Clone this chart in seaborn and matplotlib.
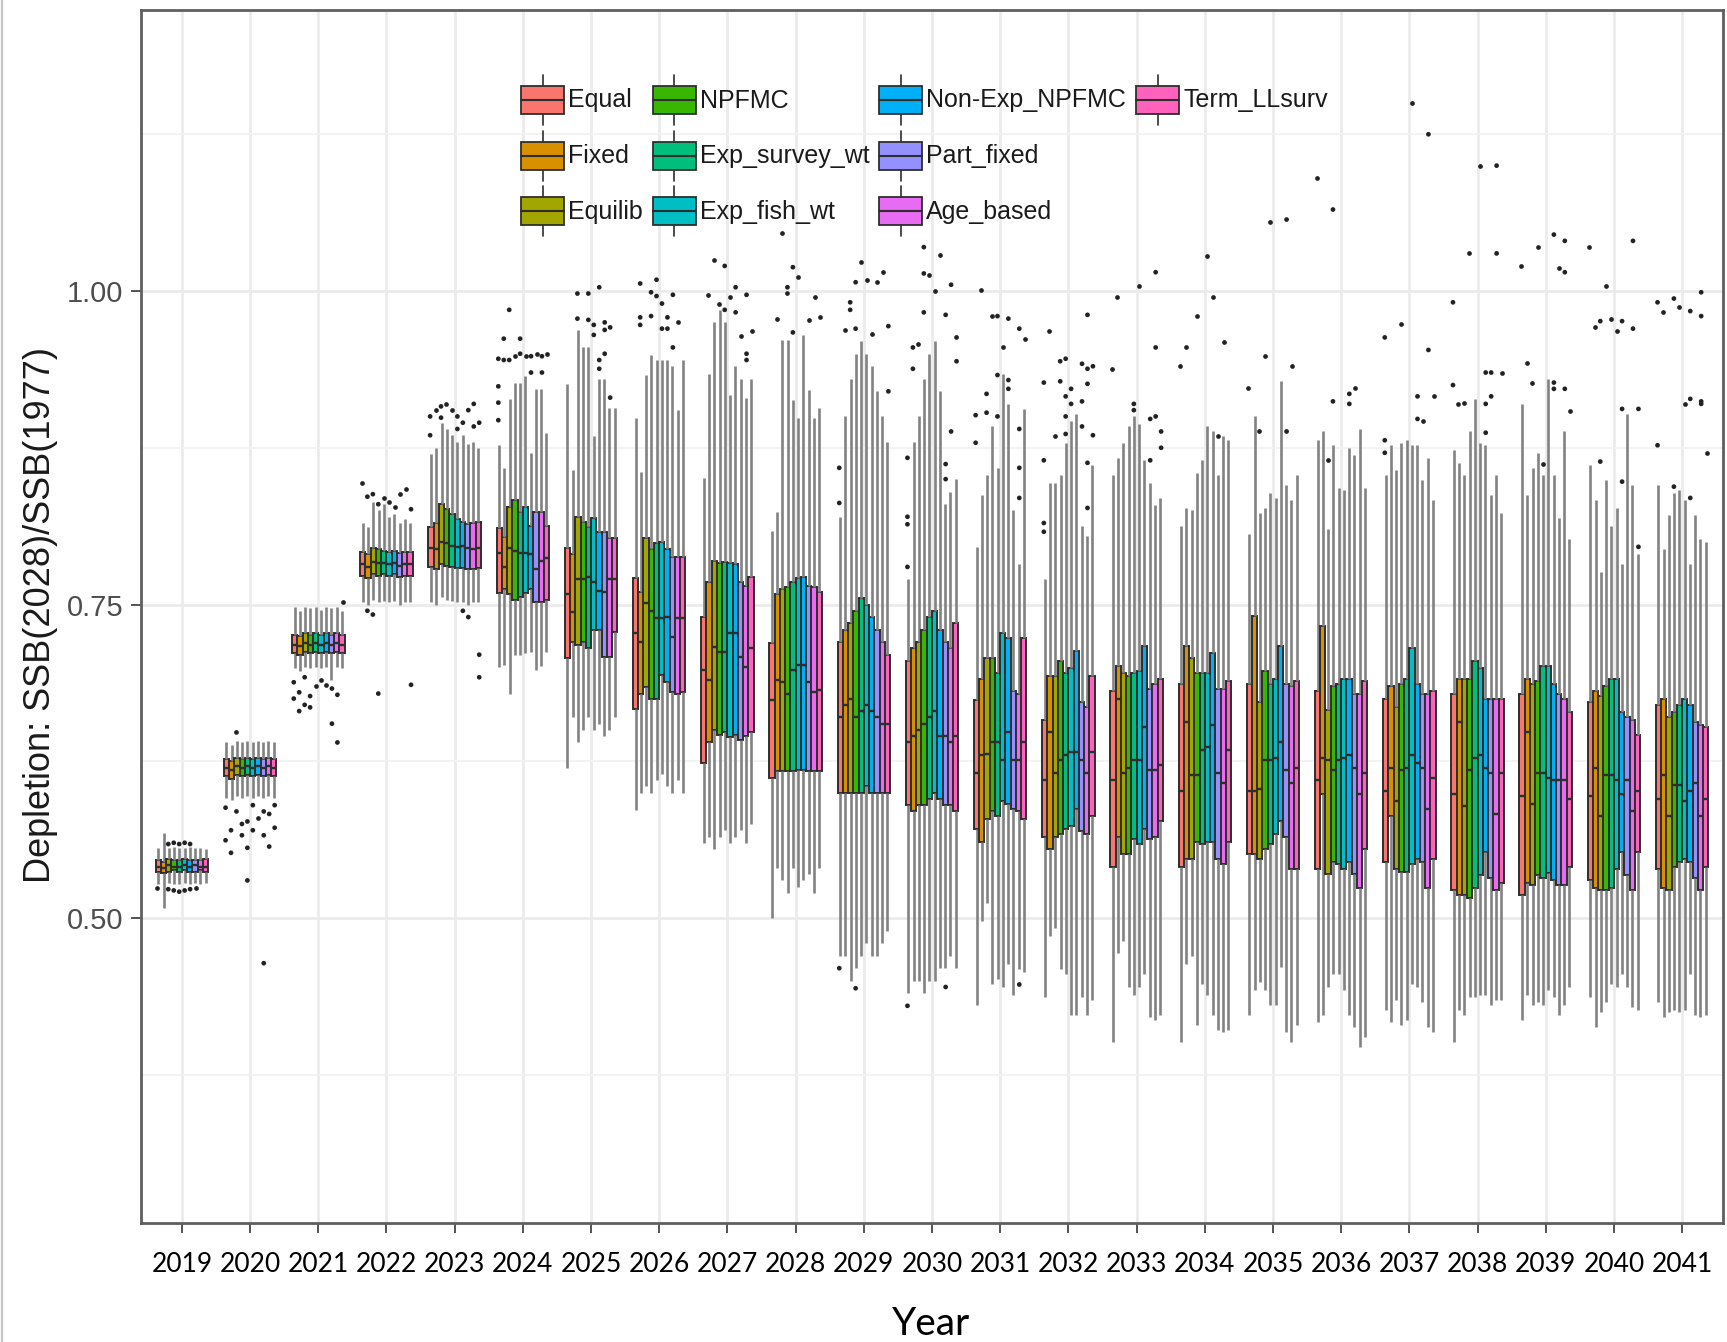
import numpy as np
import pandas as pd
import matplotlib
matplotlib.use("Agg")
import matplotlib.pyplot as plt
import seaborn as sns
from matplotlib.legend_handler import HandlerBase
from matplotlib.patches import Rectangle, Patch
from matplotlib.lines import Line2D
from matplotlib.ticker import FixedLocator

# ---------------- data ----------------
years = list(range(2019, 2042))
scenarios = ["Equal", "Fixed", "Equilib", "NPFMC", "Exp_survey_wt", "Exp_fish_wt",
             "Non-Exp_NPFMC", "Part_fixed", "Age_based", "Term_LLsurv"]
colors = ["#F8766D", "#D89000", "#A3A500", "#39B600", "#00BF7D", "#00BFC4",
          "#00B0F6", "#9590FF", "#E76BF3", "#FF62BC"]

# rows = years 2019..2041, columns = scenarios (order above)
box_q3 = [
    [0.546, 0.545, 0.547, 0.546, 0.546, 0.547, 0.546, 0.546, 0.546, 0.547],
    [0.627, 0.625, 0.628, 0.627, 0.628, 0.627, 0.628, 0.627, 0.628, 0.627],
    [0.726, 0.725, 0.727, 0.726, 0.727, 0.726, 0.727, 0.726, 0.727, 0.726],
    [0.792, 0.790, 0.795, 0.794, 0.793, 0.792, 0.793, 0.791, 0.792, 0.792],
    [0.812, 0.815, 0.830, 0.826, 0.822, 0.818, 0.816, 0.814, 0.815, 0.816],
    [0.811, 0.804, 0.828, 0.833, 0.824, 0.828, 0.813, 0.824, 0.824, 0.813],
    [0.795, 0.790, 0.820, 0.816, 0.812, 0.819, 0.808, 0.808, 0.803, 0.803],
    [0.771, 0.760, 0.803, 0.794, 0.799, 0.800, 0.794, 0.788, 0.788, 0.788],
    [0.740, 0.768, 0.785, 0.783, 0.784, 0.783, 0.782, 0.768, 0.765, 0.772],
    [0.719, 0.758, 0.762, 0.764, 0.768, 0.771, 0.772, 0.765, 0.764, 0.760],
    [0.720, 0.730, 0.735, 0.745, 0.755, 0.750, 0.740, 0.730, 0.720, 0.710],
    [0.705, 0.715, 0.720, 0.730, 0.740, 0.745, 0.730, 0.720, 0.715, 0.735],
    [0.674, 0.691, 0.707, 0.707, 0.695, 0.727, 0.723, 0.681, 0.679, 0.723],
    [0.658, 0.693, 0.693, 0.705, 0.695, 0.699, 0.713, 0.672, 0.668, 0.693],
    [0.681, 0.701, 0.695, 0.693, 0.695, 0.697, 0.717, 0.683, 0.687, 0.691],
    [0.687, 0.717, 0.707, 0.695, 0.695, 0.695, 0.711, 0.683, 0.683, 0.689],
    [0.687, 0.741, 0.672, 0.697, 0.687, 0.691, 0.717, 0.687, 0.685, 0.689],
    [0.681, 0.733, 0.666, 0.685, 0.687, 0.691, 0.691, 0.679, 0.679, 0.689],
    [0.675, 0.685, 0.668, 0.687, 0.691, 0.715, 0.687, 0.679, 0.679, 0.681],
    [0.679, 0.691, 0.691, 0.691, 0.705, 0.699, 0.675, 0.675, 0.675, 0.675],
    [0.679, 0.691, 0.687, 0.689, 0.701, 0.701, 0.687, 0.679, 0.675, 0.664],
    [0.672, 0.681, 0.677, 0.685, 0.691, 0.691, 0.664, 0.660, 0.658, 0.646],
    [0.670, 0.675, 0.660, 0.664, 0.670, 0.675, 0.670, 0.656, 0.654, 0.652],
]
box_med = [
    [0.541, 0.540, 0.542, 0.541, 0.541, 0.542, 0.541, 0.542, 0.541, 0.541],
    [0.620, 0.618, 0.621, 0.620, 0.621, 0.620, 0.621, 0.620, 0.621, 0.620],
    [0.718, 0.717, 0.719, 0.718, 0.719, 0.718, 0.719, 0.718, 0.719, 0.718],
    [0.782, 0.780, 0.784, 0.783, 0.783, 0.782, 0.783, 0.781, 0.782, 0.782],
    [0.795, 0.794, 0.800, 0.799, 0.797, 0.796, 0.797, 0.795, 0.794, 0.795],
    [0.791, 0.780, 0.795, 0.793, 0.791, 0.791, 0.790, 0.778, 0.785, 0.787],
    [0.758, 0.744, 0.770, 0.770, 0.772, 0.768, 0.761, 0.760, 0.770, 0.770],
    [0.727, 0.720, 0.751, 0.745, 0.739, 0.739, 0.740, 0.724, 0.739, 0.739],
    [0.698, 0.690, 0.716, 0.712, 0.712, 0.727, 0.727, 0.708, 0.700, 0.715],
    [0.674, 0.690, 0.688, 0.679, 0.698, 0.702, 0.702, 0.688, 0.680, 0.682],
    [0.660, 0.670, 0.675, 0.660, 0.665, 0.670, 0.665, 0.660, 0.655, 0.655],
    [0.640, 0.645, 0.650, 0.655, 0.660, 0.665, 0.645, 0.645, 0.640, 0.645],
    [0.616, 0.630, 0.631, 0.640, 0.640, 0.626, 0.648, 0.626, 0.626, 0.640],
    [0.610, 0.648, 0.616, 0.626, 0.630, 0.632, 0.632, 0.626, 0.616, 0.632],
    [0.610, 0.675, 0.616, 0.620, 0.626, 0.626, 0.652, 0.618, 0.618, 0.622],
    [0.601, 0.656, 0.614, 0.614, 0.634, 0.636, 0.654, 0.616, 0.608, 0.634],
    [0.601, 0.601, 0.603, 0.626, 0.626, 0.628, 0.640, 0.618, 0.608, 0.620],
    [0.610, 0.628, 0.626, 0.618, 0.626, 0.628, 0.630, 0.620, 0.599, 0.616],
    [0.601, 0.620, 0.593, 0.618, 0.620, 0.630, 0.624, 0.620, 0.587, 0.612],
    [0.599, 0.656, 0.589, 0.618, 0.628, 0.630, 0.620, 0.616, 0.583, 0.616],
    [0.597, 0.648, 0.591, 0.616, 0.616, 0.612, 0.610, 0.610, 0.610, 0.595],
    [0.597, 0.620, 0.581, 0.614, 0.614, 0.610, 0.599, 0.610, 0.585, 0.601],
    [0.595, 0.614, 0.581, 0.606, 0.606, 0.593, 0.601, 0.608, 0.581, 0.595],
]
box_q1 = [
    [0.537, 0.536, 0.537, 0.538, 0.537, 0.538, 0.537, 0.537, 0.538, 0.537],
    [0.613, 0.611, 0.614, 0.613, 0.614, 0.613, 0.614, 0.613, 0.614, 0.613],
    [0.711, 0.710, 0.712, 0.711, 0.712, 0.711, 0.712, 0.711, 0.712, 0.711],
    [0.773, 0.771, 0.774, 0.773, 0.774, 0.773, 0.774, 0.772, 0.773, 0.773],
    [0.780, 0.778, 0.782, 0.781, 0.780, 0.779, 0.779, 0.778, 0.778, 0.779],
    [0.759, 0.762, 0.758, 0.754, 0.756, 0.759, 0.762, 0.752, 0.752, 0.754],
    [0.707, 0.720, 0.718, 0.720, 0.715, 0.730, 0.730, 0.708, 0.708, 0.728],
    [0.667, 0.679, 0.684, 0.675, 0.675, 0.694, 0.688, 0.680, 0.679, 0.680],
    [0.624, 0.640, 0.650, 0.646, 0.648, 0.644, 0.646, 0.642, 0.645, 0.648],
    [0.612, 0.617, 0.617, 0.617, 0.617, 0.618, 0.618, 0.617, 0.617, 0.617],
    [0.600, 0.600, 0.600, 0.600, 0.600, 0.605, 0.600, 0.600, 0.600, 0.600],
    [0.590, 0.585, 0.590, 0.590, 0.595, 0.600, 0.595, 0.590, 0.590, 0.585],
    [0.571, 0.561, 0.579, 0.585, 0.581, 0.593, 0.591, 0.587, 0.585, 0.579],
    [0.565, 0.555, 0.565, 0.567, 0.571, 0.573, 0.587, 0.569, 0.567, 0.581],
    [0.541, 0.565, 0.551, 0.551, 0.563, 0.559, 0.571, 0.563, 0.565, 0.577],
    [0.541, 0.547, 0.547, 0.561, 0.559, 0.561, 0.561, 0.547, 0.543, 0.561],
    [0.551, 0.551, 0.547, 0.555, 0.559, 0.567, 0.577, 0.565, 0.539, 0.539],
    [0.539, 0.599, 0.535, 0.545, 0.543, 0.539, 0.545, 0.535, 0.524, 0.555],
    [0.545, 0.581, 0.539, 0.537, 0.537, 0.543, 0.547, 0.545, 0.524, 0.547],
    [0.522, 0.518, 0.518, 0.516, 0.524, 0.534, 0.553, 0.532, 0.522, 0.528],
    [0.518, 0.528, 0.526, 0.534, 0.532, 0.536, 0.530, 0.526, 0.526, 0.541],
    [0.530, 0.524, 0.522, 0.522, 0.524, 0.539, 0.553, 0.534, 0.522, 0.553],
    [0.539, 0.524, 0.522, 0.541, 0.545, 0.547, 0.545, 0.532, 0.522, 0.541],
]
whisker_hi = [
    [0.556, 0.568, 0.556, 0.557, 0.556, 0.556, 0.557, 0.556, 0.556, 0.555],
    [0.640, 0.638, 0.641, 0.640, 0.641, 0.640, 0.641, 0.640, 0.641, 0.640],
    [0.748, 0.745, 0.748, 0.747, 0.748, 0.746, 0.748, 0.747, 0.748, 0.745],
    [0.815, 0.812, 0.832, 0.825, 0.830, 0.820, 0.822, 0.815, 0.818, 0.815],
    [0.870, 0.875, 0.895, 0.890, 0.885, 0.880, 0.885, 0.878, 0.880, 0.875],
    [0.877, 0.859, 0.914, 0.927, 0.927, 0.932, 0.871, 0.922, 0.922, 0.887],
    [0.926, 0.857, 0.969, 0.955, 0.955, 0.884, 0.930, 0.930, 0.907, 0.907],
    [0.899, 0.856, 0.933, 0.949, 0.945, 0.945, 0.945, 0.940, 0.905, 0.945],
    [0.851, 0.934, 0.975, 0.985, 0.975, 0.917, 0.940, 0.930, 0.915, 0.930],
    [0.809, 0.824, 0.961, 0.961, 0.913, 0.899, 0.965, 0.921, 0.899, 0.907],
    [0.820, 0.900, 0.930, 0.950, 0.960, 0.950, 0.940, 0.920, 0.900, 0.880],
    [0.770, 0.880, 0.900, 0.930, 0.950, 0.960, 0.920, 0.830, 0.840, 0.850],
    [0.796, 0.837, 0.853, 0.892, 0.859, 0.934, 0.910, 0.825, 0.782, 0.906],
    [0.770, 0.847, 0.847, 0.853, 0.879, 0.896, 0.902, 0.813, 0.805, 0.861],
    [0.853, 0.867, 0.879, 0.892, 0.900, 0.894, 0.865, 0.847, 0.829, 0.835],
    [0.813, 0.827, 0.825, 0.855, 0.865, 0.892, 0.888, 0.853, 0.884, 0.881],
    [0.806, 0.900, 0.823, 0.827, 0.839, 0.835, 0.928, 0.845, 0.833, 0.853],
    [0.881, 0.888, 0.810, 0.877, 0.843, 0.841, 0.875, 0.869, 0.890, 0.843],
    [0.853, 0.877, 0.857, 0.879, 0.881, 0.877, 0.877, 0.849, 0.867, 0.833],
    [0.873, 0.863, 0.853, 0.888, 0.914, 0.879, 0.877, 0.837, 0.853, 0.823],
    [0.910, 0.837, 0.859, 0.871, 0.853, 0.930, 0.853, 0.819, 0.888, 0.802],
    [0.861, 0.833, 0.776, 0.849, 0.813, 0.827, 0.782, 0.902, 0.845, 0.790],
    [0.845, 0.794, 0.821, 0.839, 0.841, 0.833, 0.782, 0.821, 0.802, 0.800],
]
whisker_lo = [
    [0.527, 0.508, 0.528, 0.527, 0.527, 0.528, 0.527, 0.528, 0.527, 0.528],
    [0.596, 0.594, 0.597, 0.596, 0.597, 0.596, 0.597, 0.596, 0.597, 0.596],
    [0.699, 0.697, 0.700, 0.699, 0.700, 0.699, 0.700, 0.690, 0.700, 0.699],
    [0.752, 0.750, 0.754, 0.752, 0.753, 0.752, 0.753, 0.750, 0.752, 0.752],
    [0.752, 0.750, 0.756, 0.754, 0.753, 0.752, 0.752, 0.750, 0.752, 0.752],
    [0.700, 0.702, 0.679, 0.710, 0.710, 0.711, 0.712, 0.698, 0.701, 0.712],
    [0.620, 0.660, 0.640, 0.650, 0.660, 0.650, 0.655, 0.645, 0.650, 0.660],
    [0.586, 0.600, 0.605, 0.600, 0.610, 0.615, 0.605, 0.600, 0.610, 0.600],
    [0.560, 0.565, 0.555, 0.565, 0.570, 0.560, 0.565, 0.570, 0.560, 0.575],
    [0.500, 0.540, 0.530, 0.520, 0.540, 0.525, 0.530, 0.535, 0.520, 0.540],
    [0.470, 0.470, 0.450, 0.460, 0.470, 0.480, 0.470, 0.470, 0.480, 0.490],
    [0.440, 0.450, 0.450, 0.440, 0.450, 0.450, 0.460, 0.460, 0.470, 0.460],
    [0.431, 0.498, 0.512, 0.447, 0.451, 0.445, 0.463, 0.439, 0.459, 0.457],
    [0.437, 0.486, 0.492, 0.459, 0.455, 0.423, 0.423, 0.437, 0.423, 0.435],
    [0.401, 0.472, 0.482, 0.445, 0.439, 0.445, 0.455, 0.421, 0.419, 0.423],
    [0.401, 0.463, 0.470, 0.415, 0.447, 0.439, 0.423, 0.411, 0.409, 0.411],
    [0.423, 0.443, 0.449, 0.443, 0.431, 0.431, 0.461, 0.409, 0.401, 0.415],
    [0.417, 0.423, 0.445, 0.455, 0.455, 0.443, 0.423, 0.413, 0.397, 0.405],
    [0.427, 0.417, 0.435, 0.415, 0.419, 0.447, 0.445, 0.433, 0.413, 0.409],
    [0.401, 0.427, 0.423, 0.437, 0.437, 0.439, 0.439, 0.431, 0.435, 0.435],
    [0.419, 0.439, 0.431, 0.433, 0.431, 0.443, 0.437, 0.423, 0.431, 0.445],
    [0.437, 0.413, 0.425, 0.433, 0.447, 0.445, 0.455, 0.445, 0.429, 0.427],
    [0.433, 0.421, 0.425, 0.427, 0.425, 0.427, 0.455, 0.423, 0.421, 0.423],
]

# outlying points: year, scenario index, value
out_year = (
    [2019] * 12 + [2020] * 21 + [2021] * 16 + [2022] * 14 + [2023] * 18 +
    [2024] * 18 + [2025] * 14 + [2026] * 14 + [2027] * 13 + [2028] * 10 +
    [2029] * 16 + [2030] * 22 + [2031] * 19 + [2032] * 24 + [2033] * 12 +
    [2034] * 7 + [2035] * 7 + [2036] * 7 + [2037] * 11 + [2038] * 14 +
    [2039] * 13 + [2040] * 14 + [2041] * 15
)
out_scen = [
    0, 2, 3, 4, 5, 6, 7, 2, 3, 4, 5, 6,
    2, 2, 3, 3, 4, 5, 4, 6, 7, 7, 8, 9, 9, 8, 1, 0, 1, 4, 7, 0, 5,
    0, 0, 1, 1, 2, 3, 3, 4, 6, 7, 8, 7, 8, 9, 5, 2,
    0, 1, 2, 5, 6, 7, 8, 9, 4, 3, 9, 1, 2, 3,
    0, 0, 1, 2, 3, 4, 5, 6, 7, 8, 9, 2, 5, 8, 9, 9, 7, 6,
    2, 0, 0, 0, 0, 1, 1, 3, 4, 5, 6, 6, 7, 8, 9, 8, 2, 4,
    2, 4, 6, 2, 4, 5, 7, 7, 8, 5, 7, 6, 6, 8,
    1, 4, 3, 4, 5, 7, 1, 3, 6, 8, 5, 1, 6, 7,
    2, 4, 1, 5, 6, 8, 4, 6, 3, 9, 7, 8, 8,
    2, 4, 5, 3, 3, 1, 8, 7, 9, 4,
    4, 3, 5, 7, 8, 2, 2, 1, 3, 6, 9, 0, 0, 0, 3, 9,
    3, 6, 3, 4, 5, 8, 3, 7, 1, 2, 1, 0, 0, 0, 7, 7, 8, 0, 7, 9, 9, 0,
    1, 3, 4, 6, 8, 9, 5, 4, 6, 6, 2, 0, 2, 0, 4, 8, 8, 8, 8,
    1, 3, 4, 0, 3, 5, 5, 4, 7, 8, 7, 8, 9, 8, 4, 4, 2, 0, 0, 0, 7, 9, 8, 8,
    1, 5, 8, 0, 4, 8, 7, 8, 9, 9, 7, 4,
    5, 6, 3, 1, 0, 8, 7,
    0, 3, 8, 2, 7, 4, 7,
    2, 3, 6, 7, 0, 3, 6,
    0, 3, 8, 0, 0, 6, 9, 6, 7, 5, 8,
    0, 0, 1, 2, 6, 6, 6, 7, 9, 7, 3, 5, 8, 8,
    0, 7, 1, 2, 6, 6, 8, 9, 4, 3, 6, 8, 8,
    1, 2, 4, 5, 6, 8, 3, 6, 9, 6, 2, 9, 0, 8,
    0, 1, 3, 4, 6, 8, 8, 5, 6, 8, 8, 0, 9, 3, 6,
]
out_value = [
    0.524, 0.523, 0.522, 0.521, 0.522, 0.523, 0.524, 0.559, 0.560, 0.559, 0.560, 0.559,
    0.648, 0.585, 0.575, 0.566, 0.577, 0.570, 0.556, 0.580, 0.585, 0.566, 0.583, 0.590,
    0.572, 0.557, 0.570, 0.562, 0.552, 0.530, 0.464, 0.588, 0.590,
    0.688, 0.675, 0.680, 0.665, 0.670, 0.668, 0.677, 0.685, 0.686, 0.683, 0.678, 0.655,
    0.640, 0.752, 0.690, 0.692,
    0.847, 0.836, 0.838, 0.832, 0.828, 0.838, 0.842, 0.826, 0.835, 0.679, 0.686, 0.745,
    0.742, 0.830,
    0.900, 0.885, 0.905, 0.908, 0.910, 0.905, 0.900, 0.895, 0.905, 0.910, 0.895, 0.899,
    0.890, 0.892, 0.710, 0.692, 0.740, 0.745,
    0.985, 0.946, 0.924, 0.911, 0.897, 0.962, 0.945, 0.948, 0.962, 0.948, 0.948, 0.935,
    0.950, 0.948, 0.950, 0.935, 0.945, 0.950,
    0.998, 0.998, 1.003, 0.978, 0.977, 0.973, 0.969, 0.975, 0.971, 0.965, 0.950, 0.938,
    0.945, 0.915,
    1.006, 1.009, 0.999, 0.996, 0.990, 0.997, 0.979, 0.980, 0.979, 0.975, 0.970, 0.973,
    0.970, 0.955,
    1.025, 1.020, 0.997, 0.995, 1.003, 0.997, 0.985, 0.983, 0.990, 0.968, 0.964, 0.950,
    0.945,
    1.046, 1.019, 1.011, 1.003, 0.998, 0.978, 0.995, 0.977, 0.979, 0.967,
    1.023, 1.007, 1.009, 1.007, 1.015, 0.991, 0.985, 0.969, 0.970, 0.966, 0.972, 0.859,
    0.831, 0.460, 0.444, 0.920,
    1.035, 1.029, 1.014, 1.013, 1.000, 1.005, 0.983, 0.981, 0.955, 0.958, 0.938, 0.867,
    0.820, 0.814, 0.850, 0.862, 0.888, 0.430, 0.445, 0.963, 0.944, 0.780,
    1.001, 0.980, 0.980, 0.978, 0.970, 0.962, 0.955, 0.933, 0.929, 0.922, 0.918, 0.901,
    0.903, 0.879, 0.900, 0.890, 0.859, 0.835, 0.447,
    0.968, 0.944, 0.946, 0.927, 0.928, 0.922, 0.910, 0.916, 0.912, 0.981, 0.942, 0.938,
    0.940, 0.926, 0.900, 0.886, 0.884, 0.865, 0.815, 0.808, 0.892, 0.885, 0.863, 0.827,
    0.995, 1.004, 1.015, 0.938, 0.910, 0.955, 0.898, 0.900, 0.888, 0.875, 0.865, 0.905,
    1.028, 0.995, 0.980, 0.955, 0.940, 0.959, 0.884,
    0.923, 0.948, 0.940, 0.888, 0.888, 1.055, 1.057,
    0.865, 0.912, 0.910, 0.923, 1.090, 1.065, 0.918,
    0.963, 0.974, 0.953, 0.881, 0.871, 0.916, 0.916, 0.898, 0.896, 1.150, 1.125,
    0.991, 0.925, 0.910, 0.911, 0.910, 0.887, 0.935, 0.935, 0.935, 0.916, 1.030, 1.100,
    1.100, 1.030,
    1.020, 1.018, 0.943, 0.927, 0.927, 0.922, 0.922, 0.904, 0.862, 1.035, 1.045, 1.040,
    1.015,
    0.971, 0.976, 0.978, 0.968, 0.976, 0.970, 1.004, 0.906, 0.906, 0.848, 0.864, 0.796,
    1.035, 1.040,
    0.991, 0.983, 0.994, 0.987, 0.984, 0.999, 0.980, 0.910, 0.914, 0.912, 0.910, 0.877,
    0.871, 0.844, 0.835,
]

# ---------------- tables for seaborn ----------------
year_labels = [str(y) for y in years]
rows = []
for i, yr in enumerate(year_labels):
    for j, sc in enumerate(scenarios):
        for v in (whisker_lo[i][j], box_q1[i][j], box_med[i][j], box_q3[i][j], whisker_hi[i][j]):
            rows.append((yr, sc, v))
box_df = pd.DataFrame(rows, columns=["Year", "Scenario", "Depletion"])

out_df = pd.DataFrame({
    "Year": [str(y) for y in out_year],
    "Scenario": [scenarios[k] for k in out_scen],
    "Depletion": out_value,
})

# ---------------- figure ----------------
sns.set_theme(style="white")
plt.rcParams["font.family"] = ["Liberation Sans", "DejaVu Sans"]

W, H = 1727, 1342
fig = plt.figure(figsize=(W / 100, H / 100), dpi=100)
ax_l, ax_r, ax_t, ax_b = 141, 1723, 10, 1223
ax = fig.add_axes([ax_l / W, 1 - ax_b / H, (ax_r - ax_l) / W, (ax_b - ax_t) / H])

palette = dict(zip(scenarios, colors))
edge = "#2e2e2e"

sns.boxplot(
    data=box_df, x="Year", y="Depletion", hue="Scenario",
    order=year_labels, hue_order=scenarios, palette=palette,
    width=0.77, gap=0, dodge=True, whis=(0, 100), showfliers=False, showcaps=False,
    saturation=1, linewidth=1.4, linecolor=edge,
    whiskerprops=dict(color="#828282", linewidth=1.9),
    medianprops=dict(color=edge, linewidth=1.7),
    legend=False, ax=ax,
)
sns.stripplot(
    data=out_df, x="Year", y="Depletion", hue="Scenario",
    order=year_labels, hue_order=scenarios,
    palette={s: "#222222" for s in scenarios},
    dodge=True, jitter=False, size=3.4, linewidth=0, legend=False, ax=ax,
)

ax.set_xlim(-0.6, 22.6)
ax.set_ylim(0.2568, 1.2241)
ax.set_yticks([0.5, 0.75, 1.0])
ax.set_yticklabels(["0.50", "0.75", "1.00"])
ax.yaxis.set_minor_locator(FixedLocator([0.375, 0.625, 0.875, 1.125]))
ax.set_axisbelow(True)
ax.grid(True, which="major", axis="both", color="#EBEBEB", linewidth=2.0)
ax.grid(True, which="minor", axis="y", color="#F2F2F2", linewidth=1.3)
ax.set_xlabel("")
ax.set_ylabel("")

for sp in ax.spines.values():
    sp.set_color("#5f5f5f")
    sp.set_linewidth(2.0)

ax.tick_params(axis="y", which="major", direction="out", length=7.2, width=1.3,
               color="#444444", pad=5.5, labelsize=21, labelcolor="#4D4D4D", left=True)
ax.tick_params(axis="y", which="minor", length=0)
ax.tick_params(axis="x", which="major", direction="out", length=7.2, width=1.3,
               color="#444444", pad=14, labelsize=19, labelcolor="#000000", bottom=True)
for lab in ax.get_xticklabels():
    lab.set_fontfamily(["Lato", "DejaVu Sans"])

# axis titles
fig.text(41 / W, 1 - 615 / H, "Depletion: SSB(2028)/SSB(1977)", rotation=90,
         ha="center", va="center", fontsize=26, color="#1a1a1a",
         family=["Liberation Sans", "DejaVu Sans"])
fig.text(931 / W, 1 - 1324 / H, "Year", ha="center", va="center", fontsize=28,
         color="#000000", family=["Lato", "DejaVu Sans"])

# legend with boxplot-glyph keys
class BoxKey(HandlerBase):
    def create_artists(self, legend, orig_handle, xdescent, ydescent, width, height,
                       fontsize, trans):
        x0, y0 = -xdescent, -ydescent
        fc = orig_handle.get_facecolor()
        lo_b, hi_b = y0 + 0.22 * height, y0 + 0.78 * height
        xm = x0 + width / 2
        w1 = Line2D([xm, xm], [y0, lo_b], color=edge, lw=1.2, transform=trans)
        w2 = Line2D([xm, xm], [hi_b, y0 + height], color=edge, lw=1.2, transform=trans)
        rect = Rectangle((x0, lo_b), width, hi_b - lo_b, facecolor=fc, edgecolor=edge,
                         lw=1.3, transform=trans)
        med = Line2D([x0, x0 + width], [y0 + 0.5 * height] * 2, color=edge, lw=1.5,
                     transform=trans)
        return [w1, w2, rect, med]

handles = [Patch(facecolor=c, edgecolor=edge) for c in colors]
labels = list(scenarios)
# two empty slots so the 4 columns hold 3, 3, 3 and 1 keys
handles += [Line2D([], [], linestyle="none"), Line2D([], [], linestyle="none")]
labels += ["", ""]
leg = ax.legend(handles, labels, handler_map={Patch: BoxKey()}, ncol=4,
                loc="upper left", bbox_to_anchor=(521 / W, 1 - 75 / H),
                bbox_transform=fig.transFigure, frameon=False, fontsize=18,
                handlelength=1.72, handleheight=2.7, handletextpad=0.16,
                labelspacing=0.22, columnspacing=0.4, borderpad=0, borderaxespad=0)
for t in leg.get_texts():
    t.set_color("#1a1a1a")

# left image border
fig.add_artist(Line2D([1.5 / W, 1.5 / W], [0, 1], transform=fig.transFigure,
                      color="#c4c4c4", lw=1.6))

fig.savefig("out.png", dpi=100)
